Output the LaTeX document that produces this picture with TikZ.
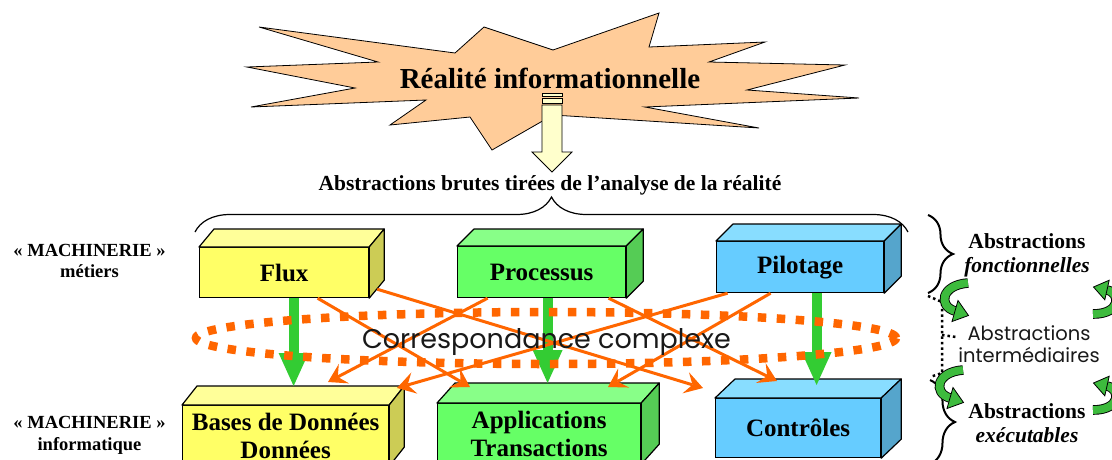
\documentclass[tikz,border=0pt]{standalone}
\usepackage{fontspec}
\setmainfont{Liberation Serif}
\newfontfamily\geofont{Poppins}
\usetikzlibrary{arrows.meta,decorations.pathreplacing,calc}

\definecolor{peach}{HTML}{FFCC99}
\definecolor{paleyellow}{HTML}{FFFFCC}
\definecolor{orng}{HTML}{FF6600}
\definecolor{grn}{HTML}{33CC33}
\definecolor{cgrn}{HTML}{3DBB3D}
\definecolor{yfront}{HTML}{FFFF66}
\definecolor{ytop}{HTML}{FFFF99}
\definecolor{yside}{HTML}{CCCC55}
\definecolor{gfront}{HTML}{66FF66}
\definecolor{gtop}{HTML}{88FF88}
\definecolor{gside}{HTML}{55CC55}
\definecolor{bfront}{HTML}{66CCFF}
\definecolor{btop}{HTML}{88DDFF}
\definecolor{bside}{HTML}{55A5CC}

\newcommand\fsz[2]{\fontsize{#1}{#2}\selectfont}

\tikzset{
  cubeface/.style={draw=black, line width=1.2pt, inner sep=0pt, align=center,
                   font=\fsz{25}{28}\bfseries},
  cubeedge/.style={draw=black, line width=1.2pt, line join=round},
  garrow/.style={draw=grn, line width=10pt,
                 -{Triangle[length=33pt,width=30pt,line width=0pt]}},
  oarrow/.style={draw=orng, line width=3pt,
                 -{Stealth[length=18pt,width=22pt,inset=7pt,line width=0pt]}},
  lbl/.style={inner sep=0pt, anchor=base, font=\fsz{18.5}{21}\bfseries},
  rlbl/.style={inner sep=0pt, anchor=base, font=\fsz{21.5}{24}\bfseries},
  slbl/.style={inner sep=0pt, anchor=base, font=\fsz{19.5}{22}\geofont, text=black!90},
  dots/.style={line width=2.5pt, dash pattern=on 2.5pt off 3pt},
  bendouter/.style={line width=9.6pt, draw=black},
  bendinner/.style={line width=7.8pt, draw=cgrn},
  bendhead/.style={fill=cgrn, draw=black, line width=0.8pt, line join=miter},
}

% a box in perspective: name, front top-left corner, width, height, depth, colour set, text
\newcommand\cube[7]{%
  \node[cubeface, fill=#6front, minimum width=#3pt, minimum height=#4pt,
        anchor=north west] (#1) at (#2) {#7};
  \draw[cubeedge, fill=#6top] (#1.north west) -- ++(#5)
       -- ([shift={(#5)}]#1.north east) -- (#1.north east) -- cycle;
  \draw[cubeedge, fill=#6side] (#1.north east) -- ++(#5)
       -- ([shift={(#5)}]#1.south east) -- (#1.south east) -- cycle;
  \coordinate (#1-back) at ([shift={(#5)}]#1.north west);
}

% curved green arrows of the right column
\newcommand\leftbend{%
  \draw[bendouter] (968,283) .. controls (941,285) and (938,306) .. (955,311);
  \draw[bendinner] (968,283) .. controls (941,285) and (938,306) .. (955,311);
  \draw[bendhead] (968.5,315.5) -- (952.0,321.5) -- (958.0,300.5) -- cycle;
}
\newcommand\rightbend{%
  \draw[bendouter] (1093,314) .. controls (1121,314) and (1121,293) .. (1107,290);
  \draw[bendinner] (1093,314) .. controls (1121,314) and (1121,293) .. (1107,290);
  \draw[bendhead] (1093.5,287.0) -- (1109.2,280.2) -- (1104.8,299.8) -- cycle;
}

\begin{document}
\begin{tikzpicture}[x=1pt,y=-1pt]
\fill[white] (0,0) rectangle (1112,459);
\useasboundingbox (0,0) rectangle (1112,459);

% --- the burst and its title
\filldraw[fill=peach, draw=black, line width=0.8pt, line join=miter]
  (259,27) -- (455,53) -- (484,27) -- (553,50) -- (659,13) -- (649,47)
  -- (765,42) -- (709,62) -- (845,65) -- (747,90) -- (859,98) -- (645,107)
  -- (759,128) -- (553,115) -- (492,150) -- (470,117) -- (390,125)
  -- (426,100) -- (251,107) -- (355,88) -- (247,67) -- (378,62) -- cycle;
\node[inner sep=0pt, anchor=base, font=\fsz{29}{29}\bfseries] (reality) at (550,88)
  {Réalité informationnelle};

% --- block arrow down to the raw abstractions
\filldraw[fill=paleyellow, draw=black, line width=0.8pt] (542,93) rectangle (562,96);
\filldraw[fill=paleyellow, draw=black, line width=0.8pt] (542,98) rectangle (562,103);
\filldraw[fill=paleyellow, draw=black, line width=0.8pt]
  (542,105) -- (562,105) -- (562,152) -- (572,152) -- (552,172) -- (532,152)
  -- (542,152) -- cycle;

\node[inner sep=0pt, anchor=base, font=\fsz{21.5}{24}\bfseries] (raw) at (550,190)
  {Abstractions brutes tirées de l’analyse de la réalité};
\draw[decorate, decoration={brace, amplitude=35pt}, line width=1.2pt]
  (195,232) -- (908,232);

% --- the six boxes
\cube{flux}{199,247}{169}{50}{15,-18}{y}{Flux}
\cube{proc}{457,246}{168}{51}{17,-17}{g}{Processus}
\cube{pilot}{716,241}{167}{51}{17,-17}{b}{Pilotage}
\cube{bases}{182,405}{206}{60}{15,-19}{y}{Bases de Données\\Données}
\cube{apps}{437,403}{203}{60}{18,-20}{g}{Applications\\Transactions}
\cube{ctrl}{715,398}{165}{59}{20,-19}{b}{Contrôles}

% --- direct correspondences
\draw[garrow] ([xshift=9.5pt]flux.south) -- ([xshift=9.5pt]flux.south |- bases-back);
\draw[garrow] ([xshift=6pt]proc.south) -- ([xshift=6pt]proc.south |- apps-back);
\draw[garrow] ([xshift=16.5pt]pilot.south) -- ([xshift=16.5pt,yshift=-6pt]pilot.south |- ctrl-back);

% --- crossed correspondences
\coordinate (t1) at (703,388);
\coordinate (t2) at (470,387);
\coordinate (t3) at (328,382);
\coordinate (t4) at (777,381);
\coordinate (t5) at (397,388);
\coordinate (t6) at (608,387);
\draw[oarrow] ([shift={(8,-9)}]flux.south east) -- (t1);
\draw[oarrow] ([xshift=33.5pt]flux.south) -- (t2);
\draw[oarrow] ([xshift=-54pt]proc.south) -- (t3);
\draw[oarrow] ([xshift=67pt]proc.south) -- (t4);
\draw[oarrow] ([xshift=-72.5pt]pilot.south) -- (t5);
\draw[oarrow] ([xshift=-29.5pt]pilot.south) -- (t6);

\draw[draw=orng, line width=8.5pt, dash pattern=on 8.5pt off 10.5pt]
  (546,338) ellipse [x radius=350pt, y radius=26pt];
\node[inner sep=0pt, anchor=base, font=\fsz{27}{27}\geofont, text=black!90] (corr)
  at (546.5,348) {Correspondance complexe};

% --- left column
\node[lbl] (mach1) at (89.5,256) {« MACHINERIE »};
\node[lbl] (metiers) at (89.5,277) {métiers};
\node[lbl] (mach2) at (89.5,428) {« MACHINERIE »};
\node[lbl] (info) at (89.5,450) {informatique};

% --- right column
\draw[decorate, decoration={brace, amplitude=25pt}, line width=2pt] (928,215) -- (928,293);
\draw[decorate, decoration={brace, amplitude=25pt}, line width=2pt] (930,380) -- (930,464);
\node[rlbl] (fa) at (1027,248) {Abstractions};
\node[rlbl] (fb) at (1027,272) {\itshape fonctionnelles};
\node[slbl] (ia) at (1029,340) {Abstractions};
\node[slbl] (ib) at (1029,362) {intermédiaires};
\node[rlbl] (ea) at (1027,418) {Abstractions};
\node[rlbl] (eb) at (1027,442) {\itshape exécutables};

\draw[dots] (928,296) -- (942,302) -- (942,373) -- (930,377);
\draw[dots] (942,335) -- (956,337);

\leftbend
\begin{scope}[shift={(-5,87)}]\leftbend\end{scope}
\rightbend
\begin{scope}[shift={(0,96)}]\rightbend\end{scope}
\end{tikzpicture}
\end{document}
